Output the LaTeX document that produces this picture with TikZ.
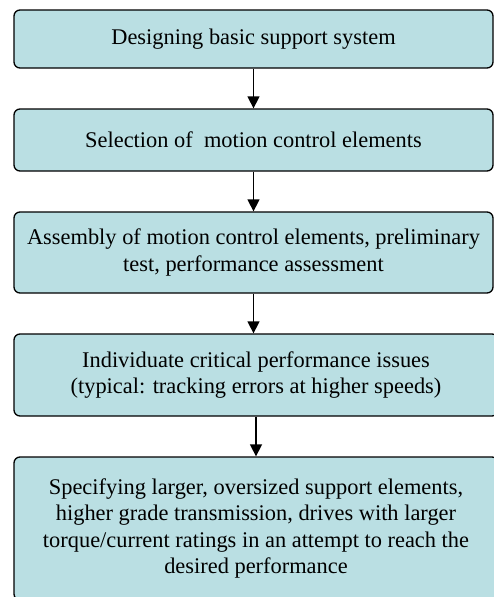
\documentclass[tikz,border=0pt]{standalone}
\usepackage{fontspec}
\setmainfont{Liberation Serif}
\usetikzlibrary{arrows.meta}
\definecolor{boxfill}{RGB}{186,223,227}
\begin{document}
\begin{tikzpicture}[x=1pt,y=-1pt,
  stepbox/.style={draw=black, line width=1.3pt, fill=boxfill, rounded corners=6pt,
    align=center, inner sep=0pt, font=\fontsize{22.4}{26.5}\selectfont},
  flow/.style={line width=1.5pt, -{Triangle[length=12pt,width=12pt]}}]
\useasboundingbox (0,0) rectangle (494,597);
\clip (0,0) rectangle (494,597);

% process steps
\node[stepbox, minimum width=479pt, minimum height=58pt] (b1) at (253.5,39)
  {Designing basic support system};
\node[stepbox, minimum width=479pt, minimum height=62pt] (b2) at (253.5,140)
  {Selection of\ \ motion control elements};
\node[stepbox, minimum width=479pt, minimum height=81pt] (b3) at (253.5,252.5)
  {Assembly of motion control elements, preliminary\\test, performance assessment};
\node[stepbox, minimum width=484pt, minimum height=82pt] (b4) at (256,375)
  {Individuate critical performance issues\\(typical: tracking errors at higher speeds)};
\node[stepbox, minimum width=484pt, minimum height=143pt] (b5) at (256,528.5)
  {Specifying larger, oversized support elements,\\higher grade transmission, drives with larger\\torque/current ratings in an attempt to reach the\\desired performance};

% connectors
\draw[flow] (b1.south) -- (b2.north);
\draw[flow] (b2.south) -- (b3.north);
\draw[flow] (b3.south) -- (b3.south |- b4.north);
\draw[flow] (b4.south) -- (b5.north);
\end{tikzpicture}
\end{document}
